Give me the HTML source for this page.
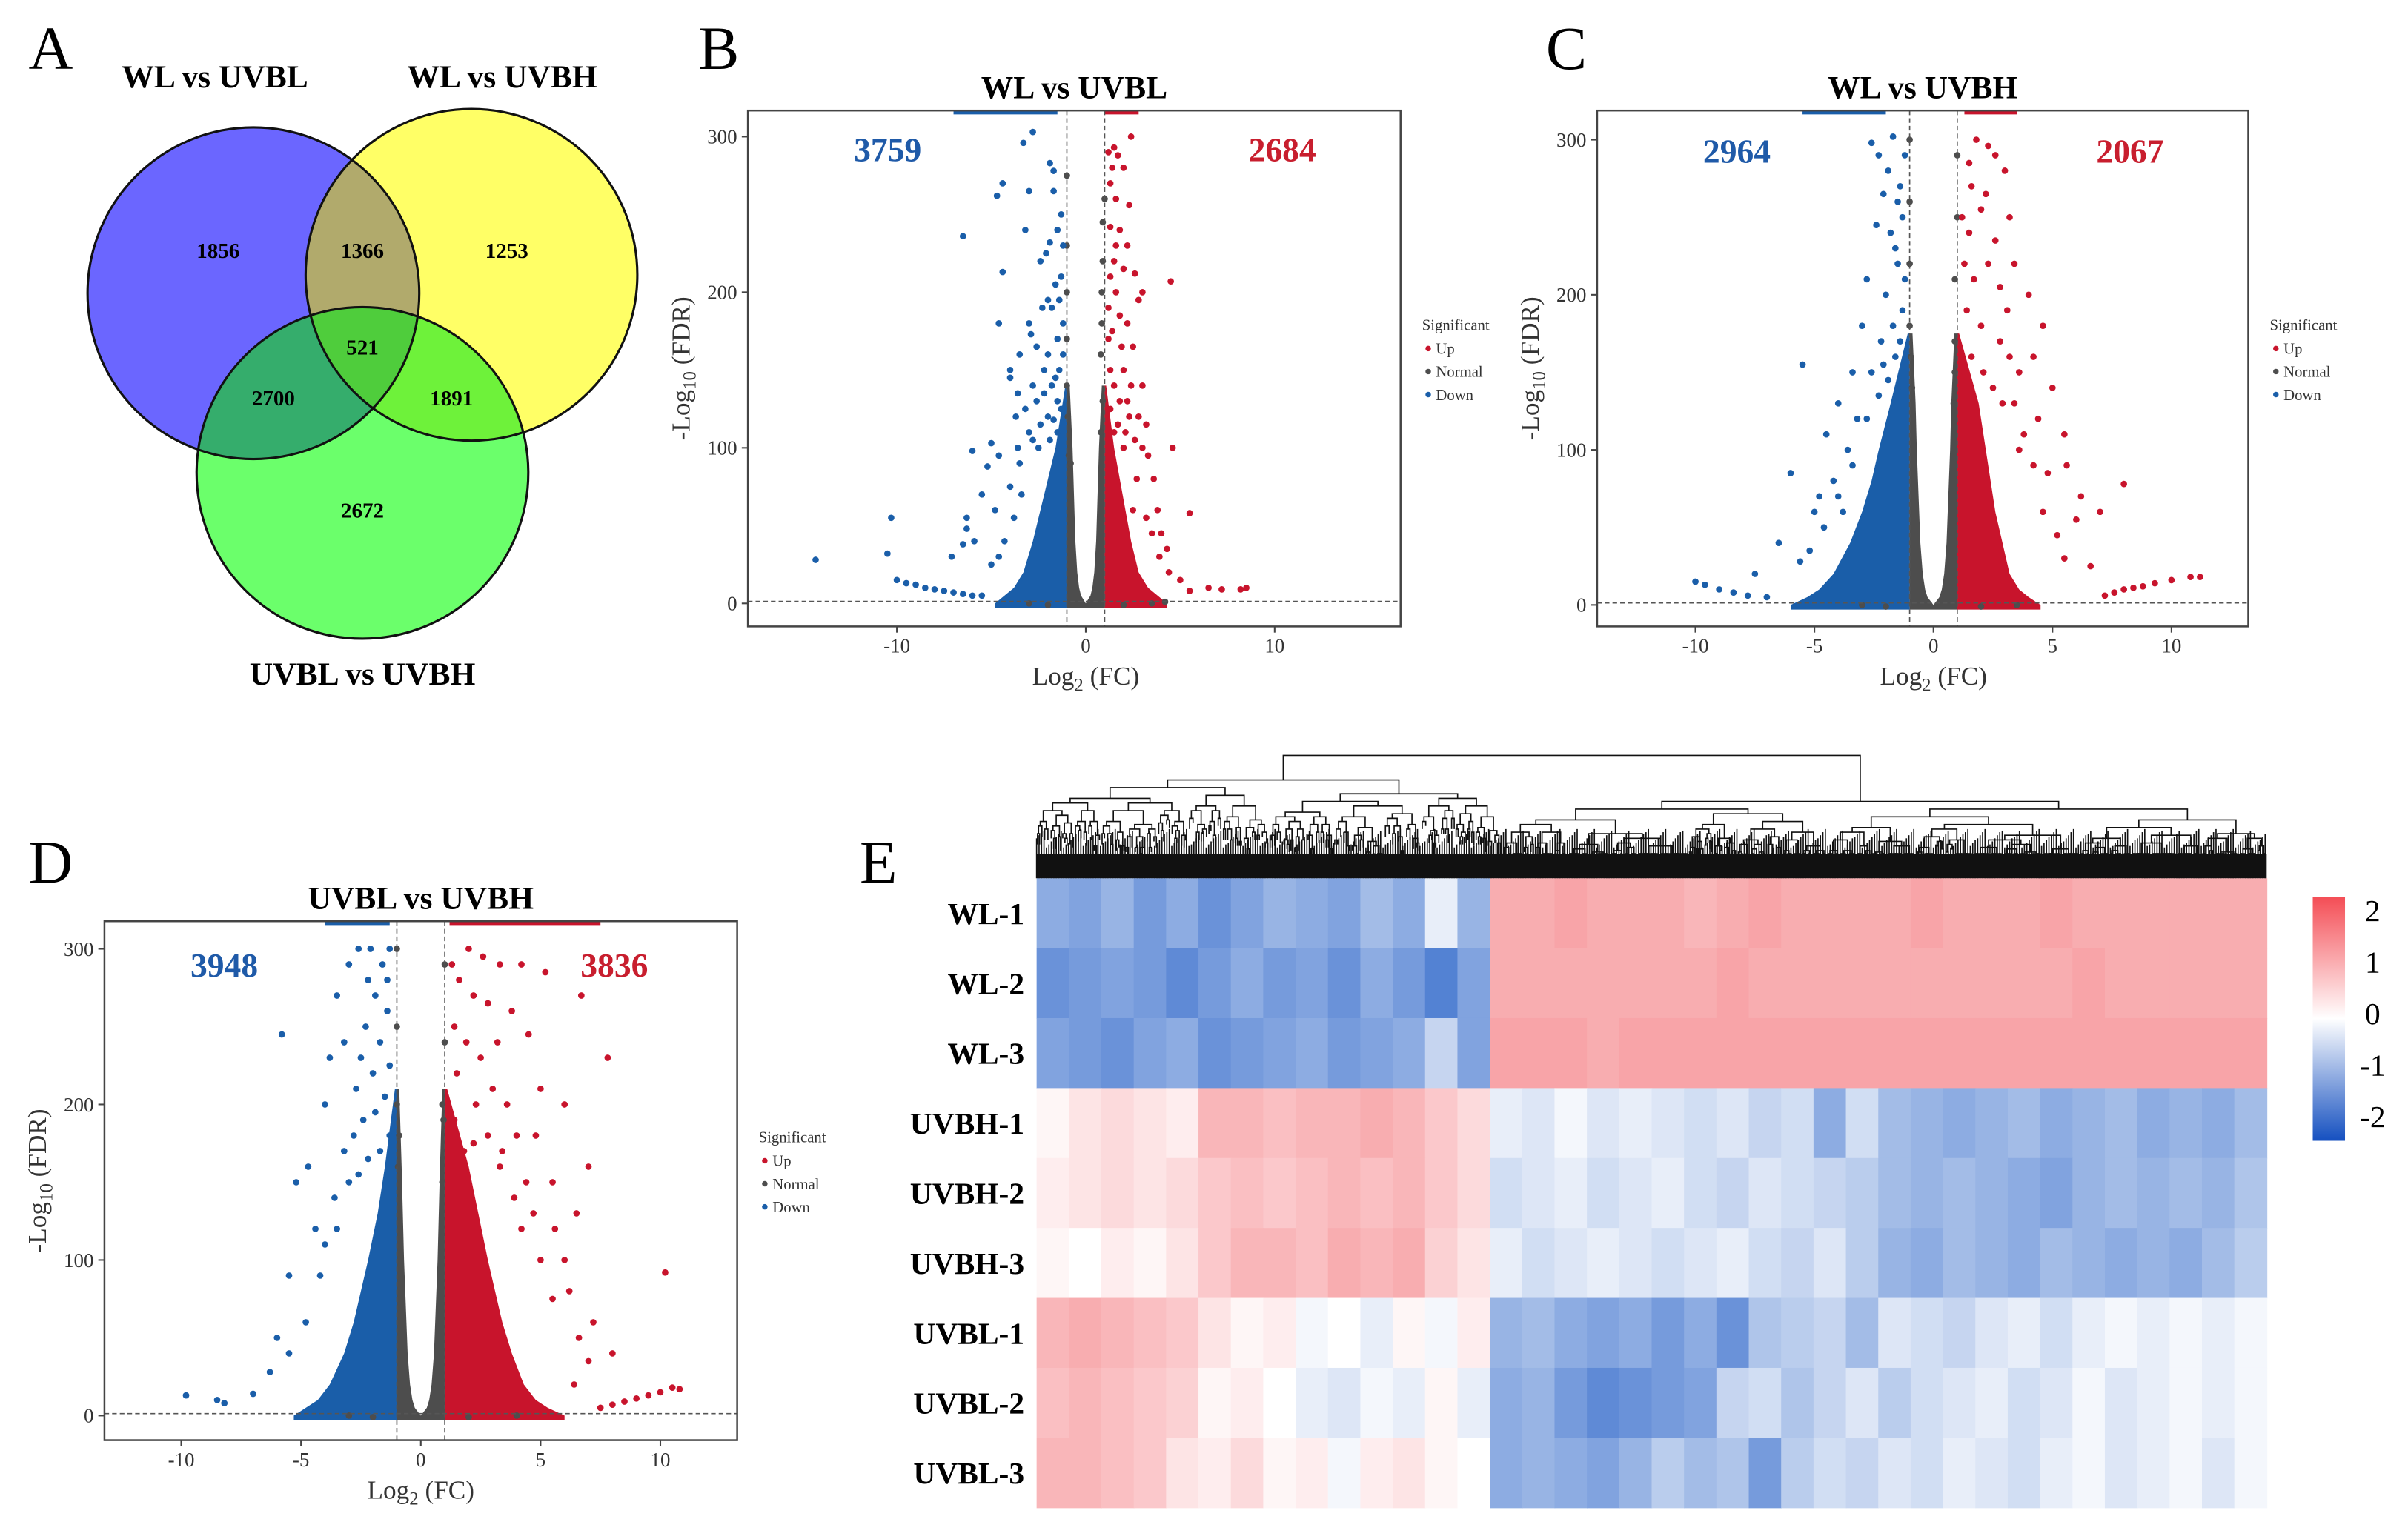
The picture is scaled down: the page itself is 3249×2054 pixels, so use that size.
<!DOCTYPE html>
<html><head><meta charset="utf-8"><style>
html,body{margin:0;padding:0;background:#fff}
svg{display:block;font-family:"Liberation Serif",serif}
</style></head><body>
<svg id="fig" width="3249" height="2054" viewBox="0 0 1568 991.3" xmlns="http://www.w3.org/2000/svg">
<defs>
<clipPath id="cB"><circle cx="165" cy="191" r="108"/></clipPath>
<clipPath id="cY"><circle cx="307" cy="179" r="108"/></clipPath>
<clipPath id="cG"><circle cx="236" cy="308" r="108"/></clipPath>
</defs>
<g>
<text x="33" y="45" font-size="40" text-anchor="middle">A</text>
<circle cx="165" cy="191" r="108" fill="#6b66ff"/>
<circle cx="307" cy="179" r="108" fill="#ffff66"/>
<circle cx="236" cy="308" r="108" fill="#6bff6b"/>
<g clip-path="url(#cB)"><circle cx="307" cy="179" r="108" fill="#b1aa6c"/><circle cx="236" cy="308" r="108" fill="#35ad6c"/></g>
<g clip-path="url(#cY)"><circle cx="236" cy="308" r="108" fill="#6ef23a"/></g>
<g clip-path="url(#cB)"><g clip-path="url(#cY)"><circle cx="236" cy="308" r="108" fill="#4fcd3c"/></g></g>
<circle cx="165" cy="191" r="108" fill="none" stroke="#111" stroke-width="1.5"/>
<circle cx="307" cy="179" r="108" fill="none" stroke="#111" stroke-width="1.5"/>
<circle cx="236" cy="308" r="108" fill="none" stroke="#111" stroke-width="1.5"/>
<g font-weight="bold" font-size="21" text-anchor="middle">
<text x="140" y="57">WL vs UVBL</text>
<text x="327" y="57">WL vs UVBH</text>
<text x="236" y="446">UVBL vs UVBH</text>
</g>
<g font-weight="bold" font-size="14" text-anchor="middle">
<text x="142" y="168">1856</text>
<text x="236" y="168">1366</text>
<text x="330" y="168">1253</text>
<text x="236" y="231">521</text>
<text x="178" y="264">2700</text>
<text x="294" y="264">1891</text>
<text x="236" y="337">2672</text>
</g>
</g>
<g id="pB"></g>
<g id="pC"></g>
<g id="pD"></g>
<g id="pE"></g>
</svg>
<script>
const NS="http://www.w3.org/2000/svg";
function mk(tag,attrs,parent){const e=document.createElementNS(NS,tag);for(const k in attrs)e.setAttribute(k,attrs[k]);if(parent)parent.appendChild(e);return e;}

// ---------- Volcano data ----------
const bTitle="WL vs UVBL", bDown=3759, bUp=2684;
const bXTicks=[-10,0,10], bYTicks=[0,100,200,300];
const bLevels=[0,5,10,20,40,60,80,100,140];
const bBlueLeft=[-4.8,-4.3,-3.8,-3.3,-2.8,-2.4,-2,-1.6,-1.08];
const bRedRight=[4.3,3.8,3.3,2.8,2.4,2.1,1.8,1.5,1.08];
const bGreyGap=[0,0.25,0.35,0.45,0.55,0.6,0.65,0.7,0.85];
const bBlue=[[-14.3,28],[-10.3,55],[-10.5,32],[-6.5,236],[-4.4,213],[-4.6,180],[-4.4,270],[-4.7,262],[-3.3,296],[-2.8,303],[-3.2,240],[-3,265],[-6,98],[-5,103],[-4.6,95],[-5.2,88],[-6.3,55],[-6.3,48],[-7.1,30],[-6.5,38],[-5.9,40],[-4,150],[-4,145],[-3.7,120],[-3.6,135],[-3.5,160],[-2.9,173],[-2.1,225],[-1.9,232],[-2.4,220],[-1.9,283],[-1.7,278],[-1.3,250],[-2,195],[-1.8,190],[-2.3,190],[-3,180],[-1.5,170],[-1.2,160],[-2,160],[-2.6,165],[-1.5,130],[-2,120],[-3,110],[-1.7,265],[-1.3,210],[-5.5,70],[-4.8,60],[-4,75],[-3.5,90],[-2.5,100],[-10,15],[-9.5,13],[-9,12],[-8.5,10],[-8,9],[-7.5,8],[-7,7],[-6.5,6],[-6,5],[-5.5,5],
[-1.4,150],[-1.6,145],[-1.8,140],[-2.2,135],[-1.3,125],[-1.7,118],[-2.4,115],[-1.5,110],[-2.8,105],[-1.2,180],[-1.4,195],[-1.6,205],[-1.2,230],[-1.5,240],[-2.2,150],[-2.6,130],[-3.2,125],[-1.9,105],[-3.4,70],[-3.8,55],[-4.3,40],[-4.6,30],[-5,25],[-3.6,100],[-2.8,140]];
const bRed=[[2.4,300],[1.5,293],[1.7,288],[2,280],[2.3,256],[1.3,270],[1.6,260],[1.3,242],[1.6,230],[2,215],[2.6,212],[3,200],[4.5,207],[2.8,195],[1.8,185],[2.2,180],[2.5,165],[2,150],[3,140],[4.6,100],[5.5,58],[3.3,95],[3.6,80],[2.8,120],[2.2,130],[3.2,115],[4,45],[4.3,35],[5,15],[5.5,8],[6.5,10],[7.2,9],[8.2,9],[8.5,10],[2.7,80],[2.5,60],[3.8,60],[3.2,55],[2,100],[1.5,110],[2.4,140],[1.6,200],[1.2,190],
[1.3,150],[1.5,140],[1.8,130],[1.3,125],[1.7,115],[2.1,110],[2.6,105],[1.2,170],[1.4,175],[1.9,165],[1.3,210],[1.5,220],[1.8,240],[2.2,230],[1.4,280],[1.2,290],[3,100],[3.5,45],[3.9,30],[4.4,20],[2.3,120]];
const bGrey=[[-1,275],[-1,230],[-1,170],[-1,140],[-0.9,95],[-0.8,90],[1,260],[0.9,245],[0.85,200],[0.8,160],[0.9,130],[0.8,110],[-0.95,120],[-1,200],[0.85,180],[0.9,220],[-3,0],[-2,-1],[2,-1],[3.5,0],[4.2,1]];
const bCapBlue=[-7,-1.5], bCapRed=[1,2.8];

const cTitle="WL vs UVBH", cDown=2964, cUp=2067;
const cXTicks=[-10,-5,0,5,10], cYTicks=[0,100,200,300];
const cLevels=[0,5,10,20,40,60,80,100,130,175];
const cBlueLeft=[-6,-5.3,-4.8,-4.2,-3.5,-3,-2.6,-2.3,-1.8,-1.08];
const cRedRight=[4.5,4,3.6,3.2,2.9,2.6,2.4,2.2,1.9,1.08];
const cGreyGap=[0,0.25,0.35,0.45,0.55,0.6,0.65,0.7,0.75,0.88];
const cBlue=[[-10,15],[-9.6,13],[-9,10],[-8.4,8],[-7.8,6],[-7,5],[-7.5,20],[-6.5,40],[-6,85],[-5.5,155],[-5,60],[-5.6,28],[-4.5,110],[-4,130],[-3.6,100],[-3.4,150],[-3,180],[-2.8,210],[-2.4,245],[-2.1,265],[-2.3,290],[-2.6,298],[-1.7,302],[-1.9,280],[-1.4,270],[-1.8,240],[-1.5,220],[-2,200],[-1.3,190],[-2.2,170],[-1.6,160],[-2.6,150],[-3.2,120],[-4.2,80],[-4.8,70],[-3.8,60],
[-1.3,150],[-1.5,140],[-1.9,145],[-2.3,135],[-1.4,170],[-1.7,180],[-1.2,210],[-1.6,230],[-1.3,250],[-2.1,155],[-2.8,120],[-3.4,90],[-4,70],[-4.6,50],[-5.2,35],[-1.2,290],[-1.5,260]];
const cRed=[[1.8,300],[2.3,296],[2.6,290],[3,280],[1.5,285],[2.2,265],[3.2,250],[2.6,235],[3.4,220],[4,200],[3.1,190],[2.8,205],[4.6,180],[4.2,160],[3.6,150],[5,140],[3.4,130],[4.4,120],[5.5,110],[5.6,90],[6.2,70],[7,60],[8,78],[6,55],[4.8,85],[3.6,100],[6.6,25],[5.5,30],[7.2,6],[7.6,8],[8,10],[8.4,11],[8.8,12],[9.3,14],[10,16],[10.8,18],[11.2,18],[1.5,240],[1.3,220],[2,180],
[1.3,150],[1.6,160],[2.1,150],[2.5,140],[1.4,190],[1.7,210],[2.3,220],[1.2,250],[1.6,270],[2,255],[2.8,170],[3.2,160],[2.9,130],[3.8,110],[4.2,90],[4.6,60],[5.2,45]];
const cGrey=[[-1,300],[-1,260],[-1,220],[-1,180],[-0.9,140],[1,290],[1,250],[0.9,210],[0.9,170],[0.85,130],[-0.95,160],[0.9,150],[-3,0],[-2,-1],[2,-1],[3.5,0]];
const cCapBlue=[-5.5,-2], cCapRed=[1.3,3.5];

const dTitle="UVBL vs UVBH", dDown=3948, dUp=3836;
const dXTicks=[-10,-5,0,5,10], dYTicks=[0,100,200,300];
const dLevels=[0,5,10,20,40,60,80,100,130,160,210];
const dBlueLeft=[-5.3,-4.8,-4.3,-3.8,-3.2,-2.8,-2.5,-2.2,-1.8,-1.5,-1.08];
const dRedRight=[6,5.3,4.8,4.3,3.8,3.4,3.1,2.8,2.4,2.0,1.1];
const dGreyGap=[0,0.25,0.35,0.45,0.55,0.6,0.65,0.7,0.75,0.8,0.9];
const dBlue=[[-9.8,13],[-8.5,10],[-8.2,8],[-7,14],[-6.3,28],[-6,50],[-5.5,90],[-5.8,245],[-5.2,150],[-4.7,160],[-4.4,120],[-4,200],[-3.8,230],[-3.5,270],[-3,290],[-2.6,300],[-2.2,280],[-3.2,240],[-2.7,210],[-4.2,90],[-4.8,60],[-5.5,40],
[-1.3,300],[-1.6,290],[-1.9,270],[-1.4,260],[-2.3,250],[-1.7,240],[-1.3,225],[-2,220],[-2.5,230],[-1.5,205],[-1.9,195],[-2.4,190],[-1.3,180],[-2.8,180],[-3.2,170],[-1.7,170],[-2.2,165],[-3.6,140],[-3,150],[-4,110],[-3.5,120],[-2.6,155],[-1.4,280],[-2.1,300]];
const dRed=[[2,300],[2.6,295],[3.3,290],[4.2,290],[5.2,285],[6.7,270],[7.8,230],[6,200],[5,210],[4.5,245],[3.8,260],[3.2,240],[2.5,230],[7,160],[6.5,130],[5.5,150],[4.8,180],[4.2,120],[5,100],[6.2,80],[7.2,60],[10.2,92],[8,40],[7.5,5],[8,7],[8.5,9],[9,11],[9.5,13],[10,15],[10.5,18],[10.8,17],
[1.3,290],[1.6,280],[2.2,270],[2.8,265],[1.4,250],[1.9,240],[3,210],[2.3,200],[1.5,220],[3.6,200],[4,180],[2.8,180],[3.4,170],[2.2,175],[4.4,150],[3.9,140],[5.6,120],[4.7,130],[3.3,160],[1.4,190],[1.8,170],[6,100],[5.5,75],[6.6,50],[7,35],[6.4,20]];
const dGrey=[[-1,300],[-1,250],[-1,200],[-0.95,160],[1,290],[1,240],[0.95,190],[0.9,150],[-0.9,180],[0.9,200],[-3,0],[-2,-1],[2,-1],[4,0]];
const dCapBlue=[-4,-1.3], dCapRed=[1.2,7.5];

const BLUE="#1a5ea9", RED="#c8142c", GREY="#4d4d4d";

function volcano(gid, box, x0px, xk, y0px, yTopPx, title, down, up, xt, yt, lv, bl, rr, gg, pb, pr, pg, capB, capR, lab){
  const g=document.getElementById(gid);
  const X=v=>x0px+v*xk, Y=v=>y0px-(v/300)*(y0px-yTopPx);
  const clipId=gid+"clip";
  const cp=mk("clipPath",{id:clipId},g); mk("rect",{x:box[0],y:box[1],width:box[2]-box[0],height:box[3]-box[1]},cp);
  const pg_=mk("g",{"clip-path":"url(#"+clipId+")"},g);
  mk("rect",{x:X(capB[0]),y:box[1],width:X(capB[1])-X(capB[0]),height:2.5,fill:BLUE},pg_);
  mk("rect",{x:X(capR[0]),y:box[1],width:X(capR[1])-X(capR[0]),height:2.5,fill:RED},pg_);
  let p=[];lv.forEach((y,i)=>p.push(X(bl[i])+","+Y(y)));
  for(let i=lv.length-1;i>=0;i--)p.push(X(-1)+","+Y(lv[i]));
  p.push(X(-1)+","+(Y(0)+3));p.push(X(bl[0])+","+(Y(0)+3));
  const be=mk("polygon",{points:p.join(" "),fill:BLUE},pg_);
  
  
  p=[];lv.forEach((y,i)=>p.push(X(rr[i])+","+Y(y)));
  for(let i=lv.length-1;i>=0;i--)p.push(X(1)+","+Y(lv[i]));
  p.push(X(1)+","+(Y(0)+3));p.push(X(rr[0])+","+(Y(0)+3));
  const re=mk("polygon",{points:p.join(" "),fill:RED},pg_);
  
  
  p=[];lv.forEach((y,i)=>p.push(X(-1)+","+Y(y)));
  for(let i=lv.length-1;i>=0;i--)p.push(X(-gg[i])+","+Y(lv[i]));
  p.push(X(gg[0])+","+Y(0));
  lv.forEach((y,i)=>p.push(X(gg[i])+","+Y(y)));
  for(let i=lv.length-1;i>=0;i--)p.push(X(1)+","+Y(lv[i]));
  p.push(X(1)+","+(Y(0)+3));p.push(X(-1)+","+(Y(0)+3));
  const ge=mk("polygon",{points:p.join(" "),fill:GREY},pg_);
  
  
  const pts=(arr,col,nm)=>arr.forEach(d=>{const c=mk("circle",{cx:X(d[0]),cy:Y(d[1]),r:2.1,fill:col},pg_);
    
    });
  pts(pg,GREY,'normal-point');pts(pb,BLUE,'down-point');pts(pr,RED,'up-point');
  [-1,1].forEach(v=>mk("line",{x1:X(v),x2:X(v),y1:box[1],y2:box[3],stroke:"#555","stroke-width":0.8,"stroke-dasharray":"3,2"},g));
  mk("line",{x1:box[0],x2:box[2],y1:Y(1.3),y2:Y(1.3),stroke:"#555","stroke-width":0.8,"stroke-dasharray":"3,2"},g);
  const fr=mk("rect",{x:box[0],y:box[1],width:box[2]-box[0],height:box[3]-box[1],fill:"none",stroke:"#444","stroke-width":1.2},g);
  
  
  xt.forEach(v=>{mk("line",{x1:X(v),x2:X(v),y1:box[3],y2:box[3]+4,stroke:"#444"},g);
    const t=mk("text",{x:X(v),y:box[3]+17,"font-size":13,"text-anchor":"middle",fill:"#333"},g);t.textContent=v;
    
    });
  yt.forEach(v=>{mk("line",{x1:box[0]-4,x2:box[0],y1:Y(v),y2:Y(v),stroke:"#444"},g);
    const t=mk("text",{x:box[0]-7,y:Y(v)+4.5,"font-size":13,"text-anchor":"end",fill:"#333"},g);t.textContent=v;
    
    });
  const tt=mk("text",{x:(box[0]+box[2])/2,y:box[1]-8,"font-size":21,"font-weight":"bold","text-anchor":"middle"},g);tt.textContent=title;
  
  
  const dn=mk("text",{x:lab[0],y:lab[2],"font-size":22,"font-weight":"bold","text-anchor":"middle",fill:"#1f5aa8"},g);dn.textContent=down;
  
  
  const un=mk("text",{x:lab[1],y:lab[2],"font-size":22,"font-weight":"bold","text-anchor":"middle",fill:"#c81e2e"},g);un.textContent=up;
  
  
  const xl=mk("text",{x:X(0),y:box[3]+38,"font-size":17,"text-anchor":"middle",fill:"#333"},g);
  xl.innerHTML='Log<tspan font-size="12" dy="4">2</tspan><tspan dy="-4"> (FC)</tspan>';
  
  
  const yc=(box[1]+box[3])/2, yx=box[0]-38;
  const yl=mk("text",{x:yx,y:yc,"font-size":17,"text-anchor":"middle",fill:"#333",transform:`rotate(-90 ${yx} ${yc})`},g);
  yl.innerHTML='-Log<tspan font-size="12" dy="4">10</tspan><tspan dy="-4"> (FDR)</tspan>';
  
  
  const lx=box[2]+14, ly=yc-25;
  const lg=mk("g",{},g);
  
  
  const lt=mk("text",{x:lx,y:ly,"font-size":10,fill:"#333"},lg);lt.textContent="Significant";
  [["Up",RED],["Normal",GREY],["Down",BLUE]].forEach((e,i)=>{
    mk("circle",{cx:lx+4,cy:ly+12+i*15,r:1.8,fill:e[1]},lg);
    const t=mk("text",{x:lx+9,y:ly+15.5+i*15,"font-size":10,fill:"#333"},lg);t.textContent=e[0];
    
    });
}
volcano("pB",[487,72,912,408],707,12.3,393,89,bTitle,bDown,bUp,bXTicks,bYTicks,bLevels,bBlueLeft,bRedRight,bGreyGap,bBlue,bRed,bGrey,bCapBlue,bCapRed,[578,835,105]);
volcano("pC",[1040,72,1464,408],1259,15.5,394,91,cTitle,cDown,cUp,cXTicks,cYTicks,cLevels,cBlueLeft,cRedRight,cGreyGap,cBlue,cRed,cGrey,cCapBlue,cCapRed,[1131,1387,106]);
volcano("pD",[68,600,480,938],274,15.6,922,618,dTitle,dDown,dUp,dXTicks,dYTicks,dLevels,dBlueLeft,dRedRight,dGreyGap,dBlue,dRed,dGrey,dCapBlue,dCapRed,[146,400,636]);

[["B",468,45],["C",1020,45],["D",33,575],["E",572,575]].forEach(l=>{const t=mk("text",{x:l[1],y:l[2],"font-size":40,"text-anchor":"middle"},document.getElementById("fig"));t.textContent=l[0];
  
  });

// ---------- Heatmap data ----------
const rowNames=["WL-1","WL-2","WL-3","UVBH-1","UVBH-2","UVBH-3","UVBL-1","UVBL-2","UVBL-3"];
const hm0=[-1.0,-1.1,-0.9,-1.2,-1.0,-1.3,-1.1,-0.9,-1.0,-1.1,-0.8,-1.0,-0.2,-0.9, 0.9,0.9,1.0,0.9,0.9,0.9,0.8,0.9,1.0,0.9,0.9,0.9,0.9,1.0,0.9,0.9,0.9,1.0,0.9,0.9,0.9,0.9,0.9,0.9];
const hm1=[-1.3,-1.2,-1.1,-1.2,-1.4,-1.2,-1.0,-1.2,-1.1,-1.3,-1.0,-1.2,-1.5,-1.1, 0.9,0.9,0.9,0.9,0.9,0.9,0.9,1.0,0.9,0.9,0.9,0.9,0.9,0.9,0.9,0.9,0.9,0.9,1.0,0.9,0.9,0.9,0.9,0.9];
const hm2=[-1.1,-1.2,-1.3,-1.1,-1.0,-1.3,-1.2,-1.1,-1.0,-1.2,-1.1,-1.0,-0.5,-1.1, 1.0,1.0,1.0,0.9,1.0,1.0,1.0,1.0,1.0,1.0,1.0,1.0,1.0,1.0,1.0,1.0,1.0,1.0,1.0,1.0,1.0,1.0,1.0,1.0];
const hm3=[0.1,0.3,0.4,0.3,0.2,0.8,0.8,0.7,0.8,0.8,0.9,0.8,0.6,0.4, -0.2,-0.3,-0.1,-0.3,-0.2,-0.3,-0.4,-0.3,-0.5,-0.4,-1.0,-0.4,-0.8,-0.9,-1.0,-0.9,-0.8,-1.0,-0.9,-0.8,-1.0,-0.9,-1.0,-0.8];
const hm4=[0.2,0.3,0.4,0.3,0.4,0.6,0.7,0.6,0.7,0.8,0.7,0.8,0.6,0.4, -0.4,-0.3,-0.2,-0.4,-0.3,-0.2,-0.4,-0.5,-0.3,-0.4,-0.5,-0.6,-0.8,-0.9,-0.8,-0.9,-1.0,-1.1,-0.9,-0.8,-0.9,-0.8,-0.9,-0.7];
const hm5=[0.1,0.0,0.2,0.1,0.3,0.6,0.8,0.8,0.7,0.9,0.8,0.9,0.5,0.3, -0.2,-0.4,-0.3,-0.2,-0.3,-0.4,-0.3,-0.2,-0.4,-0.5,-0.3,-0.6,-0.9,-1.0,-0.8,-0.9,-1.0,-0.8,-0.9,-1.0,-0.9,-1.0,-0.8,-0.6];
const hm6=[0.8,0.9,0.8,0.7,0.6,0.3,0.1,0.2,-0.1,0.0,-0.2,0.1,-0.1,0.2, -0.9,-0.8,-1.0,-1.1,-1.0,-1.2,-1.0,-1.3,-0.7,-0.6,-0.5,-0.8,-0.3,-0.4,-0.5,-0.3,-0.2,-0.4,-0.2,-0.1,-0.2,-0.1,-0.2,-0.1];
const hm7=[0.7,0.8,0.7,0.6,0.5,0.1,0.2,0.0,-0.2,-0.3,-0.1,-0.2,0.1,-0.2, -1.0,-0.9,-1.2,-1.4,-1.3,-1.2,-1.1,-0.5,-0.4,-0.7,-0.5,-0.3,-0.6,-0.4,-0.3,-0.2,-0.4,-0.3,-0.1,-0.3,-0.2,-0.1,-0.2,-0.1];
const hm8=[0.8,0.8,0.7,0.6,0.3,0.2,0.4,0.1,0.2,-0.1,0.2,0.3,0.1,0.0, -1.0,-0.9,-1.0,-1.1,-0.9,-0.6,-0.8,-0.7,-1.2,-0.6,-0.4,-0.5,-0.3,-0.4,-0.2,-0.3,-0.4,-0.2,-0.1,-0.3,-0.2,-0.1,-0.3,-0.1];
const heatRows=[hm0,hm1,hm2,hm3,hm4,hm5,hm6,hm7,hm8];
const cbTicks=[2,1,0,-1,-2];

function colorOf(v){const t=Math.max(-2,Math.min(2,v))/2;
  const hi=t>=0?[240,72,80]:[26,88,196];const a=Math.abs(t);
  return `rgb(${Math.round(255+(hi[0]-255)*a)},${Math.round(255+(hi[1]-255)*a)},${Math.round(255+(hi[2]-255)*a)})`;}
(function(){
  const g=document.getElementById("pE");
  const L=675,R=1476,T=572,B=982;
  const nR=heatRows.length, rh=(B-T)/nR;
  heatRows.forEach((row,ri)=>{
    const cw=(R-L)/row.length;
    row.forEach((v,ci)=>{const r=mk("rect",{x:L+ci*cw,y:T+ri*rh,width:cw+0.4,height:rh+0.3,fill:colorOf(v)},g);
      
      });
    const t=mk("text",{x:L-8,y:T+ri*rh+rh/2+7,"font-size":20,"font-weight":"bold","text-anchor":"end"},g);t.textContent=rowNames[ri];
    
    
  });
  const dg=mk("g",{stroke:"#111","stroke-width":0.8,fill:"none"},g);
  
  
  function tree(x0,x1,y,depth){
    if(depth>10||x1-x0<2.5)return (x0+x1)/2;
    const split=depth===0?978:x0+(x1-x0)*(0.35+0.3*((depth*7+Math.round(x0*3))%5)/4);
    const ch=depth===0?[16,30]:[3+((depth+Math.round(x0))%3)*2,3+((depth+Math.round(x1))%4)*2];
    const yL=Math.min(y+ch[0],556), yR=Math.min(y+ch[1],556);
    const a=tree(x0,split,yL,depth+1), b=tree(split,x1,yR,depth+1);
    mk("path",{d:`M${a},${yL}V${y}H${b}V${yR}`},dg);
    return (a+b)/2;
  }
  tree(L,R,492,0);
  for(let x=L;x<R;x+=1.6){mk("line",{x1:x,x2:x,y1:572,y2:540+((Math.round(x*7))%13),stroke:"#111","stroke-width":0.8},g);}
  const band=mk("rect",{x:L,y:556,width:R-L,height:16,fill:"#111"},g);
  
  
  const gr=mk("linearGradient",{id:"cbg",x1:0,y1:0,x2:0,y2:1},g);
  [[0,"#f44d55"],[0.5,"#ffffff"],[1,"#1550c0"]].forEach(s=>mk("stop",{offset:s[0],"stop-color":s[1]},gr));
  const cb=mk("rect",{x:1506,y:584,width:21,height:159,fill:"url(#cbg)"},g);
  
  
  cbTicks.forEach((v,i)=>{const t=mk("text",{x:1545,y:600+i*33.5,"font-size":20,"text-anchor":"middle"},g);t.textContent=v;
    
    });
})();
</script>
</body></html>
